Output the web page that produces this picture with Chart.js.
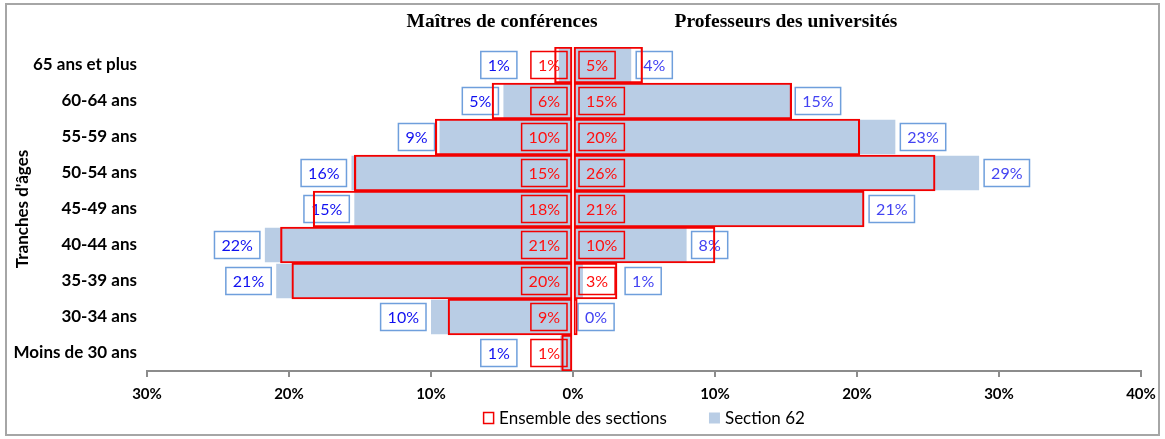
<!DOCTYPE html>
<html>
<head>
<meta charset="utf-8">
<script src="https://cdn.jsdelivr.net/npm/chart.js@4.4.1/dist/chart.umd.min.js"></script>
<style>
  html, body { margin: 0; padding: 0; background: #fff; }
  #wrap { position: relative; width: 1165px; height: 439px; }
</style>
</head>
<body>
<div id="wrap"><canvas id="chart" width="1165" height="439"></canvas></div>
<script>
// age groups, top to bottom
const categories = ['65 ans et plus', '60-64 ans', '55-59 ans', '50-54 ans', '45-49 ans',
  '40-44 ans', '35-39 ans', '30-34 ans', 'Moins de 30 ans'];

// % of each corps, left = maîtres de conférences, right = professeurs
const ensembleMCF = [1.3, 5.7, 9.7, 15.4, 18.3, 20.6, 19.8, 8.8, 0.8];
const ensemblePR = [4.9, 15.4, 20.2, 25.5, 20.5, 10.0, 3.1, 0.3, null];
const section62MCF = [1.0, 4.9, 9.4, 15.6, 15.4, 21.7, 20.9, 10.0, 0.9];
const section62PR = [4.1, 15.3, 22.7, 28.6, 20.5, 8.0, 0.7, 0.0, null];

const xTicks = [-30, -20, -10, 0, 10, 20, 30, 40];
const headings = ['Maîtres de conférences', 'Professeurs des universités'];

const RED = '#f20000';
const BLUE = '#b9cde5';
const neg = arr => arr.map(v => (v === null ? null : -v));

function labelBox(ctx, text, anchor, side, y) {
  const w = ctx.measureText(text).width + 14;
  const left = side < 0 ? anchor - w : anchor;
  return { left, right: left + w, w, y, text };
}

function drawBox(ctx, b, stroke, fill, color) {
  const h = 27;
  if (fill) {
    ctx.fillStyle = fill;
    ctx.fillRect(b.left, b.y - h / 2, b.w, h);
  }
  ctx.lineWidth = 1.5;
  ctx.strokeStyle = stroke;
  ctx.strokeRect(b.left, b.y - h / 2, b.w, h);
  ctx.fillStyle = color;
  ctx.textAlign = 'center';
  ctx.textBaseline = 'middle';
  ctx.fillText(b.text, b.left + b.w / 2, b.y + 1);
}

// red labels sit at the base of the bar, blue ones just past the end
function redBoxes(chart, ctx) {
  const x0 = chart.scales.x.getPixelForValue(0);
  const out = [];
  [[ensembleMCF, 0, -1], [ensemblePR, 1, 1]].forEach(([vals, di, side]) => {
    const meta = chart.getDatasetMeta(di);
    vals.forEach((v, i) => {
      if (v === null || Math.round(v) === 0) return;
      const y = meta.data[i].y;
      out.push({ i, side, box: labelBox(ctx, Math.round(v) + '%', x0 + side * 6, side, y) });
    });
  });
  return out;
}

const labelsPlugin = {
  id: 'pyramidLabels',
  beforeDraw(chart) {
    const ctx = chart.ctx;
    ctx.save();
    ctx.fillStyle = '#fff';
    ctx.fillRect(0, 0, chart.width, chart.height);
    ctx.strokeStyle = '#a6a6a6';
    ctx.lineWidth = 2;
    ctx.strokeRect(6, 4, chart.width - 12, chart.height - 8);
    ctx.restore();
  },
  beforeDatasetsDraw(chart) {
    const ctx = chart.ctx;
    ctx.save();
    ctx.font = '16px Lato';
    const reds = redBoxes(chart, ctx);
    [[section62MCF, 2, -1, '#1010f0'], [section62PR, 3, 1, '#4343f2']].forEach(([vals, di, side, color]) => {
      const meta = chart.getDatasetMeta(di);
      vals.forEach((v, i) => {
        if (v === null) return;
        const el = meta.data[i];
        let b = labelBox(ctx, Math.round(v) + '%', el.x + side * 5, side, el.y);
        const r = reds.find(o => o.i === i && o.side === side);
        if (r) {
          if (side < 0 && b.right > r.box.left - 2) b = labelBox(ctx, b.text, r.box.left - 14, -1, el.y);
          if (side > 0 && b.left < r.box.right + 2) b = labelBox(ctx, b.text, r.box.right + 10, 1, el.y);
        }
        drawBox(ctx, b, '#6f9fdc', '#fff', color);
      });
    });
    ctx.restore();
  },
  afterDatasetsDraw(chart) {
    const ctx = chart.ctx;
    ctx.save();
    ctx.font = '16px Lato';
    redBoxes(chart, ctx).forEach(o => drawBox(ctx, o.box, RED, null, '#ff1010'));
    // column headings over each half
    const x = chart.scales.x;
    ctx.font = 'bold 19.5px "Liberation Serif"';
    ctx.fillStyle = '#000';
    ctx.textAlign = 'center';
    ctx.textBaseline = 'middle';
    ctx.fillText(headings[0], x.getPixelForValue(-5), 22);
    ctx.fillText(headings[1], x.getPixelForValue(15), 22);
    ctx.restore();
  },
  afterDraw(chart) {
    // legend: one entry per series, left/right halves share it
    const ctx = chart.ctx;
    const sets = chart.data.datasets.filter((d, i) => i % 2 === 0);
    ctx.save();
    ctx.font = '17px Lato';
    ctx.textBaseline = 'middle';
    ctx.textAlign = 'left';
    const box = 11, gapText = 5, gapItem = 42;
    const widths = sets.map(d => box + gapText + ctx.measureText(d.label).width);
    const total = widths.reduce((a, b) => a + b, 0) + gapItem * (sets.length - 1);
    const area = chart.chartArea;
    let x = (area.left + area.right) / 2 - total / 2;
    const y = 418;
    sets.forEach((d, i) => {
      if (d.borderWidth) {
        ctx.lineWidth = 1.5;
        ctx.strokeStyle = d.borderColor;
        ctx.strokeRect(x + 0.5, y - box / 2, box - 1, box);
      } else {
        ctx.fillStyle = d.backgroundColor;
        ctx.fillRect(x, y - box / 2, box, box);
      }
      ctx.fillStyle = '#000';
      ctx.fillText(d.label, x + box + gapText, y + 1);
      x += widths[i] + gapItem;
    });
    ctx.restore();
  }
};

Chart.defaults.font.family = 'Lato';
Chart.defaults.color = '#000';

function build() {
  new Chart(document.getElementById('chart'), {
    type: 'bar',
    data: {
      labels: categories,
      datasets: [
        { label: 'Ensemble des sections', data: neg(ensembleMCF), backgroundColor: 'rgba(0,0,0,0)',
          borderColor: RED, borderWidth: 1.5, borderSkipped: false },
        { label: 'Ensemble des sections', data: ensemblePR, backgroundColor: 'rgba(0,0,0,0)',
          borderColor: RED, borderWidth: 1.5, borderSkipped: false },
        { label: 'Section 62', data: neg(section62MCF), backgroundColor: BLUE, borderWidth: 0, barPercentage: 0.96 },
        { label: 'Section 62', data: section62PR, backgroundColor: BLUE, borderWidth: 0, barPercentage: 0.96 }
      ]
    },
    options: {
      indexAxis: 'y',
      responsive: false,
      animation: false,
      grouped: false,
      barPercentage: 1,
      categoryPercentage: 1,
      layout: { padding: { top: 47, right: 24, left: 0, bottom: 34 } },
      scales: {
        x: {
          min: -30,
          max: 40,
          afterBuildTicks: s => { s.ticks = xTicks.map(v => ({ value: v })); },
          ticks: {
            callback: v => Math.abs(v) + '%',
            font: { size: 15, weight: 'bold' },
            padding: 8,
            maxRotation: 0
          },
          grid: { display: true, drawOnChartArea: false, drawTicks: true, tickLength: 6, color: '#8c8c8c', lineWidth: 2 },
          border: { display: true, color: '#8c8c8c', width: 2 },
          afterFit: s => { s.height = 34; }
        },
        y: {
          ticks: { font: { size: 17, weight: 'bold' }, padding: 2 },
          grid: { display: false },
          border: { display: false },
          title: {
            display: true,
            text: "Tranches d'âges",
            font: { size: 17, weight: 'bold' },
            padding: { top: 12, bottom: 0 }
          },
          afterFit: s => { s.width = 147; }
        }
      },
      plugins: {
        tooltip: { enabled: false },
        legend: { display: false }
      }
    },
    plugins: [labelsPlugin]
  });
}

Promise.all(['16px Lato', '17px Lato', 'bold 17px Lato', 'bold 19.5px "Liberation Serif"'].map(f => document.fonts.load(f)))
  .then(build, build);
</script>
</body>
</html>
